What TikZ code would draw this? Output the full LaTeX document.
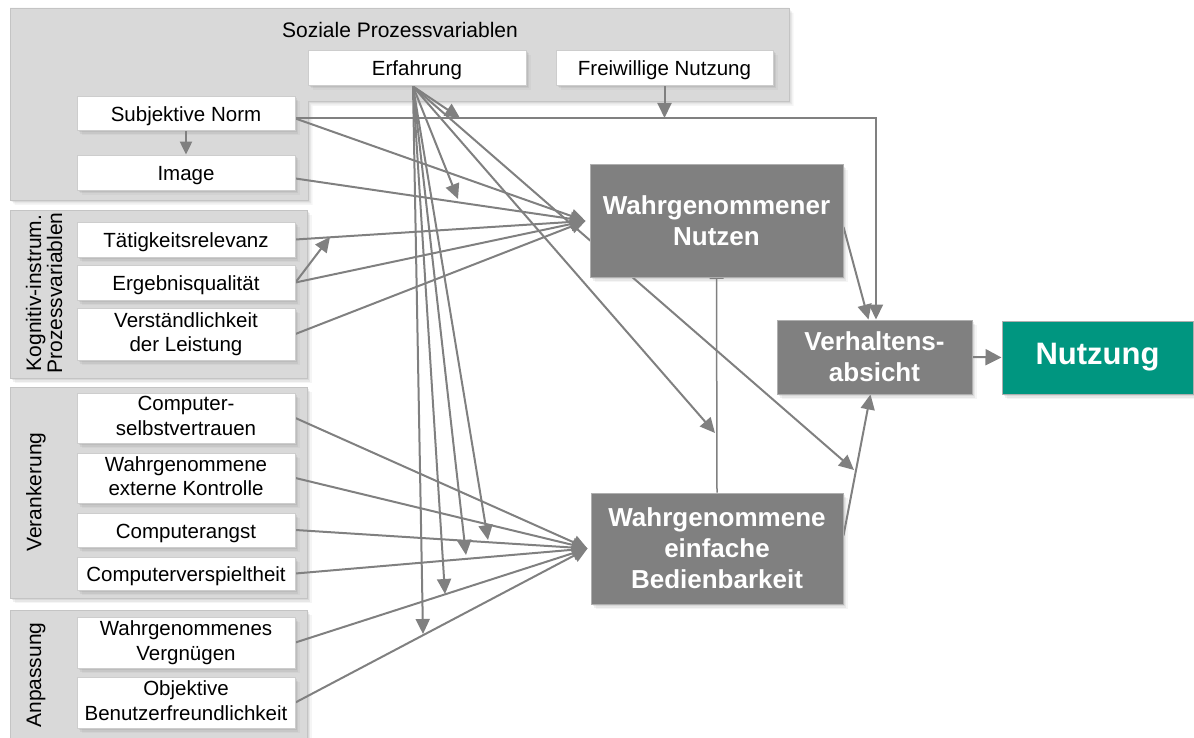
\documentclass[tikz,border=0pt]{standalone}
\usepackage{fontspec}
\setmainfont{Liberation Sans}
\usetikzlibrary{arrows.meta,shadows,calc}

\pgfdeclarelayer{groups}
\pgfdeclarelayer{lines}
\pgfsetlayers{groups,lines,main}

\definecolor{grpfill}{RGB}{217,217,217}
\definecolor{grpline}{RGB}{196,196,196}
\definecolor{boxline}{RGB}{205,205,205}
\definecolor{darkfill}{RGB}{128,128,128}
\definecolor{darkline}{RGB}{175,175,175}
\definecolor{connc}{RGB}{128,128,128}
\definecolor{usefill}{RGB}{0,150,128}

\begin{document}
\begin{tikzpicture}[x=1pt,y=-1pt,
  shad/.style={
    drop shadow={shadow xshift=1.5pt, shadow yshift=-2pt, opacity=0.14},
    drop shadow={shadow xshift=3pt, shadow yshift=-3.5pt, opacity=0.12},
    drop shadow={shadow xshift=4.5pt, shadow yshift=-5pt, opacity=0.08}},
  wbox/.style={draw=boxline, line width=0.8pt, fill=white, minimum width=218pt, inner sep=0pt,
    align=center, font=\fontsize{20.5}{24.5}\selectfont, shad,
    execute at begin node={\rule{0pt}{21pt}},
    execute at end node={\rule[-4pt]{0pt}{4pt}}},
  dbox/.style={draw=darkline, line width=1pt, fill=darkfill, text=white, inner sep=0pt,
    align=center, font=\fontsize{26}{31}\selectfont\bfseries, shad},
  grp/.style={fill=grpfill, draw=grpline, line width=0.8pt, shad},
  glabel/.style={font=\fontsize{21}{24}\selectfont, align=center, inner sep=0pt},
  conn/.style={draw=connc, line width=2pt},
  arr/.style={conn, -{Triangle[length=15pt,width=14pt]}},
]
\useasboundingbox (0,0) rectangle (1194,738);

% ---------- variable groups ----------
\begin{pgfonlayer}{groups}
  \path[grp] (10,8) -- (789,8) -- (789,101) -- (308,101) -- (308,200) -- (10,200) -- cycle;
  \path[grp] (10,210) rectangle (307,378);
  \path[grp] (10,387) rectangle (307,598);
  \path[grp] (10,610) rectangle (307,748);
  \node[glabel] (lsoz) at (400,30) {Soziale Prozessvariablen};
  \node[glabel, rotate=90] (lkog) at (44,293) {Kognitiv-instrum.\\[-3pt]Prozessvariablen};
  \node[glabel, rotate=90] (lver) at (36,492) {Verankerung};
  \node[glabel, rotate=90] (lanp) at (36,675) {Anpassung};
\end{pgfonlayer}

% ---------- determinants ----------
\node[wbox, minimum height=34pt] (sn)  at (186,113.5) {Subjektive Norm};
\node[wbox, minimum height=35pt] (img) at (186,172.5) {Image};
\node[wbox, minimum height=35pt] (erf) at (417,67.5) {Erfahrung};
\node[wbox, minimum height=35pt, minimum width=217pt] (frw) at (664.5,67.5) {Freiwillige Nutzung};
\node[wbox, minimum height=35pt] (tr)  at (186,239.5) {Tätigkeitsrelevanz};
\node[wbox, minimum height=35pt] (eq)  at (186,282.5) {Ergebnisqualität};
\node[wbox, minimum height=52pt] (vl)  at (186,334) {Verständlichkeit\\der Leistung};
\node[wbox, minimum height=50pt] (cs)  at (186,418) {Computer-\\selbstvertrauen};
\node[wbox, minimum height=50pt] (ek)  at (186,478) {Wahrgenommene\\externe Kontrolle};
\node[wbox, minimum height=34pt] (ca)  at (186,530) {Computerangst};
\node[wbox, minimum height=33pt] (cv)  at (186,573.5) {Computerverspieltheit};
\node[wbox, minimum height=51pt] (wv)  at (186,642.5) {Wahrgenommenes\\Vergnügen};
\node[wbox, minimum height=51pt] (ob)  at (186,702.5) {Objektive\\Benutzerfreundlichkeit};

% ---------- core constructs ----------
\node[dbox, minimum width=253pt, minimum height=112pt] (pu)   at (716.5,221) {Wahrgenommener\\Nutzen};
\node[dbox, minimum width=252pt, minimum height=111pt] (peou) at (717,548.5) {Wahrgenommene\\einfache\\Bedienbarkeit};
\node[dbox, minimum width=195pt, minimum height=74pt]  (bi)   at (874.5,357) {Verhaltens-\\absicht};
\node[dbox, fill=usefill, minimum width=191pt, minimum height=73pt,
      font=\fontsize{31}{36}\selectfont\bfseries] (use) at (1097.5,357.5) {Nutzung};

% ---------- connection points ----------
\coordinate (snout)  at ([yshift=-5pt]sn.east);
\coordinate (imgout) at ([yshift=-6pt]img.east);
\coordinate (erfout) at ([xshift=-4pt,yshift=-1pt]erf.south);
\coordinate (puin)   at ([xshift=-4pt]pu.west);
\coordinate (peouin) at ([xshift=-3pt]peou.west);
% moderated paths
\coordinate (msnbi)  at (460,118);
\coordinate (mfrw)   at (664.5,118);
\coordinate (mimg)   at (458,199);
\coordinate (mtr)    at (330,237);
\coordinate (mpeoupu) at (715,433);
\coordinate (mpeoubi) at (854,470);
\coordinate (mca)    at (488,540);
\coordinate (mcv)    at (466,555);
\coordinate (mwv)    at (445,594);
\coordinate (mob)    at (423,634);

% ---------- connectors ----------
\begin{pgfonlayer}{lines}
  \draw[arr, -{Triangle[length=13pt,width=12pt]}] (sn.south) -- (img.north);
  \draw[arr] (snout) -| ([xshift=1.5pt]bi.north);
  \draw[arr] (snout) -- (puin);
  \draw[arr] (imgout) -- (puin);
  \draw[arr] (tr.east) -- (puin);
  \draw[arr] (eq.east) -- (puin);
  \draw[arr] (vl.east) -- (puin);
  \draw[arr] (eq.east) -- (mtr);

  \draw[arr] (cs.east) -- (peouin);
  \draw[arr] (ek.east) -- (peouin);
  \draw[arr] (ca.east) -- (peouin);
  \draw[arr] (cv.east) -- (peouin);
  \draw[arr] (wv.east) -- (peouin);
  \draw[arr] (ob.east) -- (peouin);

  \draw[arr] (frw.south) -- (mfrw);
  \draw[arr] (erfout) -- (msnbi);
  \draw[arr] (erfout) -- (mimg);
  \draw[arr] (erfout) -- (mpeoupu);
  \draw[arr] (erfout) -- (mpeoubi);
  \draw[arr] (erfout) -- (mca);
  \draw[arr] (erfout) -- (mcv);
  \draw[arr] (erfout) -- (mwv);
  \draw[arr] (erfout) -- (mob);

  \draw[conn, line width=1.5pt, -{Bar[width=14pt,line width=1.5pt]}] (peou.north) -- (pu.south);
  \draw[arr] ([yshift=-6pt]pu.east) -- ([xshift=-6pt]bi.north);
  \draw[arr] ([yshift=13pt]peou.east) -- ([xshift=-4pt]bi.south);
  \draw[arr, -{Triangle[length=16pt,width=16pt]}] (bi.east) -- (use.west);
\end{pgfonlayer}
\end{tikzpicture}
\end{document}
